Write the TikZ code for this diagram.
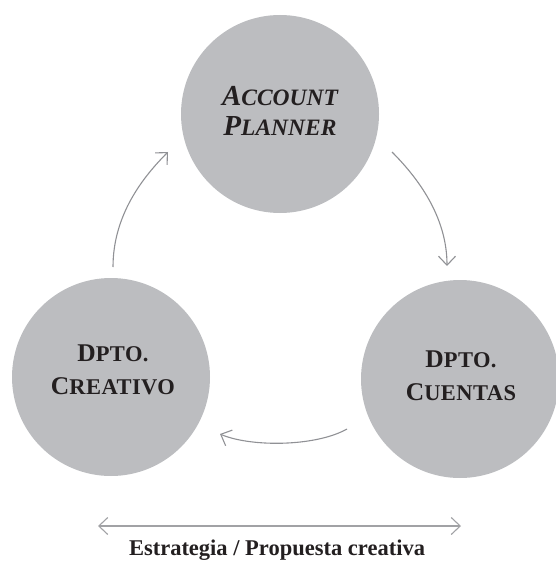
\documentclass[tikz,border=0pt]{standalone}
\usepackage{fontspec}
\setmainfont{Liberation Serif}
\newfontfamily\lsp[LetterSpace=2]{Liberation Serif}
\usetikzlibrary{arrows.meta}
\definecolor{circfill}{HTML}{BCBDC0}
\definecolor{arrowgray}{HTML}{909195}
\definecolor{txt}{HTML}{231F20}
\newcommand\topbig[1]{{\fontsize{29}{30}\selectfont #1}}
\newcommand\topsmall[1]{{\fontsize{23.5}{30}\selectfont #1}}
\newcommand\dbig[1]{{\fontsize{25.5}{32.5}\selectfont #1}}
\newcommand\dsmall[1]{{\fontsize{22.5}{32.5}\selectfont\lsp\bfseries #1}}
\tikzset{
  circ/.style={circle, fill=circfill, draw=none, minimum size=198pt, inner sep=0pt},
  lbl/.style={text=txt, align=center, inner sep=0pt, font=\fontsize{25}{32.5}\selectfont\bfseries},
  toplbl/.style={text=txt, align=center, inner sep=0pt, font=\fontsize{29}{30}\selectfont\bfseries\itshape},
  arr/.style={draw=arrowgray, line width=1.1pt, -{Straight Barb[length=9pt,width=17pt]}},
  darr/.style={draw=arrowgray!85, line width=1.1pt, {Straight Barb[length=9pt,width=17pt]}-{Straight Barb[length=9pt,width=17pt]}}
}
\begin{document}
\begin{tikzpicture}[x=1pt,y=-1pt]
\useasboundingbox (0,0) rectangle (555,569);
\node[circ] (ap) at (280,114) {};
\node[circ] (dc) at (111,377) {};
\node[circ] (du) at (460,379) {};
\node[toplbl] (apl) at (280,110.5) {\topbig{A}\topsmall{CCOUNT}\\\topbig{P}\topsmall{LANNER}};
\node[lbl] (dcl) at (113,370) {\dbig{D}\dsmall{PTO.}\\\dbig{C}\dsmall{REATIVO}};
\node[lbl] (dul) at (461,376) {\dbig{D}\dsmall{PTO.}\\\dbig{C}\dsmall{UENTAS}};
\coordinate (la1) at (113,267);
\coordinate (la2) at (168,152);
\coordinate (ra1) at (392,152);
\coordinate (ra2) at (447,266);
\coordinate (ba1) at (347,429);
\coordinate (ba2) at (220,434);
\coordinate (da1) at (98,526);
\coordinate (da2) at (461,526);
\draw[arr] (la1) .. controls (113,215) and (143,177) .. (la2);
\draw[arr] (ra1) .. controls (417,177) and (447,216) .. (ra2);
\draw[arr] (ba1) .. controls (315,447) and (250,447) .. (ba2);
\draw[darr] (da1) -- (da2);
\node[text=txt, font=\fontsize{22.5}{27}\selectfont\bfseries, anchor=base, inner sep=0pt] (cap) at (277,555) {Estrategia / Propuesta creativa};
\end{tikzpicture}
\end{document}
